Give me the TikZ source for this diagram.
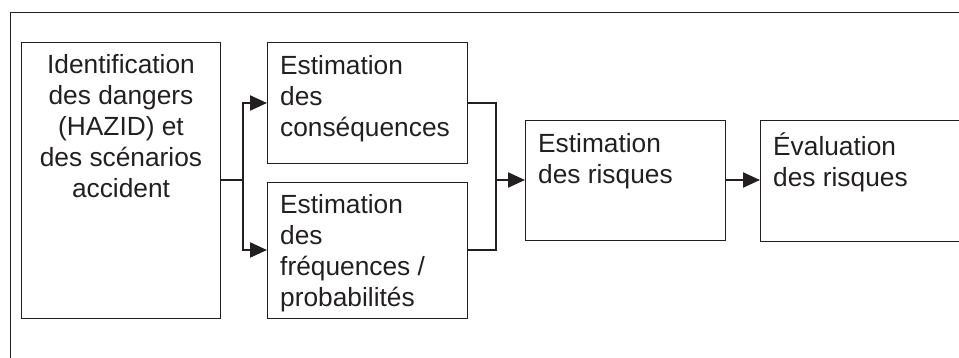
\documentclass[tikz,border=0pt]{standalone}
\usepackage{fontspec}
\setmainfont{Liberation Sans}
\usetikzlibrary{arrows.meta}
\definecolor{ink}{HTML}{231F20}
\newcommand{\fstrut}{\rule{0pt}{20pt}}
\begin{document}
\begin{tikzpicture}[x=1pt,y=-1pt,
  box/.style={draw=ink, line width=1.3pt, rectangle, inner sep=0pt, anchor=north west},
  txt/.style={inner sep=0pt, text=ink, font=\fontsize{26.3}{31}\selectfont},
  conn/.style={draw=ink, line width=2.3pt},
  arr/.style={conn, -{Triangle[length=17pt,width=15pt]}}]
\useasboundingbox (0,0) rectangle (959,358);
\clip (0,0) rectangle (959,358);
\node[box, minimum width=1000pt, minimum height=400pt] (frame) at (10,12) {};
\node[box, minimum width=199pt, minimum height=276pt] (A) at (21,42) {};
\node[box, minimum width=200pt, minimum height=121pt] (B) at (267,42) {};
\node[box, minimum width=200pt, minimum height=136pt] (C) at (267,182) {};
\node[box, minimum width=200pt, minimum height=120pt] (D) at (525,120) {};
\node[box, minimum width=220pt, minimum height=121pt] (E) at (760,120) {};
\node[txt, align=center, anchor=north] (tA) at (121,53) {\fstrut Identification\\des dangers\\(HAZID) et\\des scénarios\\accident};
\node[txt, align=left, anchor=north west] (tB) at (280,54) {\fstrut Estimation\\des\\conséquences};
\node[txt, align=left, anchor=north west] (tC) at (280,193) {\fstrut Estimation\\des\\fréquences /\\probabilités};
\node[txt, align=left, anchor=north west] (tD) at (538,132) {\fstrut Estimation\\des risques};
\node[txt, align=left, anchor=north west] (tE) at (773,132) {\fstrut Évaluation\\des risques};
\coordinate (s) at (243,180);
\coordinate (m) at (496,180);
\draw[conn] (A.east |- s) -- (s);
\draw[arr] (s) |- (B.west |- 0,103);
\draw[arr] (s) |- (C.west |- 0,250);
\draw[conn] (B.east |- 0,103) -| (m);
\draw[conn] (C.east |- 0,250) -| (m);
\draw[arr] (m) -- (D.west |- m);
\draw[arr] (D.east |- m) -- (E.west |- m);
\end{tikzpicture}
\end{document}
